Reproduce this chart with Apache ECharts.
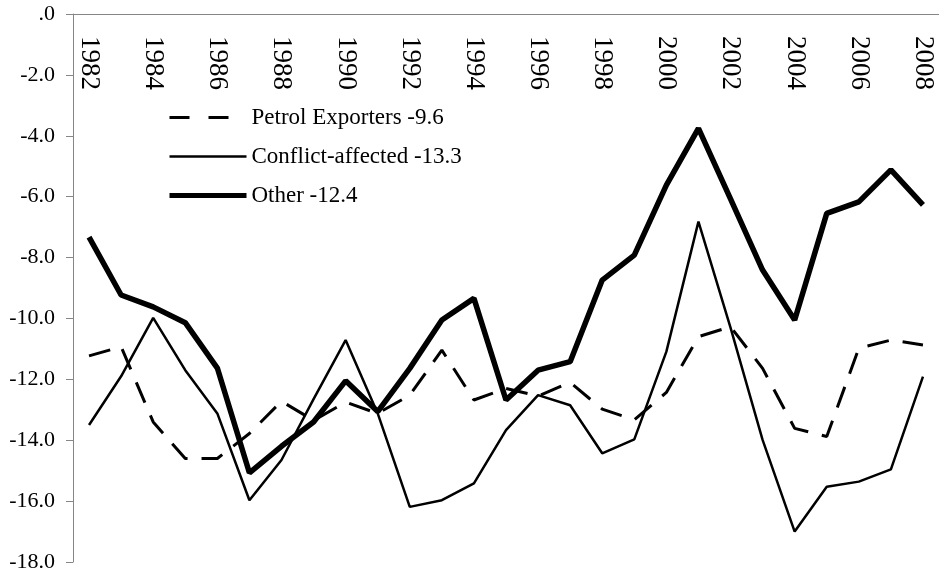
<!DOCTYPE html>
<html>
<head>
<meta charset="utf-8">
<script src="https://cdn.jsdelivr.net/npm/echarts@6.0.0/dist/echarts.min.js"></script>
<style>
  html, body { margin: 0; padding: 0; background: #fff; }
  #chart { width: 939px; height: 575px; }
</style>
</head>
<body>
<div id="chart"></div>
<script>
const years = ['1982', '1983', '1984', '1985', '1986', '1987', '1988', '1989', '1990', '1991', '1992', '1993', '1994', '1995',
  '1996', '1997', '1998', '1999', '2000', '2001', '2002', '2003', '2004', '2005', '2006', '2007', '2008'];

const petrolExporters = [-11.23, -10.93, -13.4, -14.6, -14.6, -13.78, -12.72, -13.35, -12.75, -13.12, -12.52, -11.04, -12.68, -12.3,
  -12.55, -12.1, -12.98, -13.33, -12.43, -10.6, -10.27, -11.64, -13.61, -13.88, -10.98, -10.71, -10.87];
const conflictAffected = [-13.5, -11.9, -9.98, -11.7, -13.12, -15.97, -14.65, -12.65, -10.71, -13.12, -16.19, -15.97, -15.42, -13.67,
  -12.52, -12.85, -14.43, -13.97, -11.09, -6.82, -10.3, -13.99, -17.0, -15.53, -15.36, -14.96, -11.91];
const other = [-7.33, -9.23, -9.62, -10.14, -11.63, -15.07, -14.2, -13.4, -12.05, -13.06, -11.64, -10.05, -9.34, -12.68,
  -11.7, -11.42, -8.74, -7.92, -5.62, -3.76, -6.07, -8.41, -10.05, -6.55, -6.17, -5.12, -6.27];

const seriesNames = ['Petrol Exporters -9.6', 'Conflict-affected -13.3', 'Other -12.4'];

const yTicks = [0, -2, -4, -6, -8, -10, -12, -14, -16, -18];
const yTickLabels = ['.0', '-2.0', '-4.0', '-6.0', '-8.0', '-10.0', '-12.0', '-14.0', '-16.0', '-18.0'];

const serif = 'Liberation Serif';
const axisGray = '#868686';
const noSymbol = { color: 'rgba(0,0,0,0)', borderWidth: 0 };

const chart = echarts.init(document.getElementById('chart'));

chart.setOption({
  animation: false,
  backgroundColor: '#fff',
  grid: { left: 73, top: 14, width: 875, height: 548 },
  legend: {
    orient: 'vertical',
    left: 167,
    top: 106,
    padding: 0,
    itemWidth: 77,
    itemHeight: 14,
    itemGap: 16,
    data: [
      { name: seriesNames[0], itemStyle: noSymbol, lineStyle: { color: '#000', width: 3, type: [20, 19] } },
      { name: seriesNames[1], itemStyle: noSymbol, lineStyle: { color: '#000', width: 2.5 } },
      { name: seriesNames[2], itemStyle: noSymbol, lineStyle: { color: '#000', width: 5 } }
    ],
    textStyle: { fontFamily: serif, fontSize: 23, color: '#000' }
  },
  xAxis: {
    type: 'category',
    position: 'top',
    data: years,
    boundaryGap: true,
    axisLine: { lineStyle: { color: axisGray, width: 1 } },
    axisTick: { inside: true, length: 8, interval: 0, lineStyle: { color: axisGray } },
    axisLabel: { inside: true, rotate: -90, interval: 1, margin: 22, fontFamily: serif, fontSize: 27, color: '#000' },
    splitLine: { show: false }
  },
  yAxis: {
    type: 'value',
    min: -18,
    max: 0,
    interval: 2,
    axisLine: { show: true, lineStyle: { color: axisGray, width: 1 } },
    axisTick: { show: true, length: 7, lineStyle: { color: axisGray } },
    splitLine: { show: false },
    axisLabel: {
      margin: 18,
      fontFamily: serif,
      fontSize: 22,
      color: '#000',
      formatter: (v) => yTickLabels[yTicks.indexOf(v)]
    }
  },
  series: [
    {
      name: seriesNames[0],
      type: 'line',
      data: petrolExporters,
      symbol: 'none',
      color: '#000',
      lineStyle: { color: '#000', width: 3, type: [22, 14] }
    },
    {
      name: seriesNames[1],
      type: 'line',
      data: conflictAffected,
      symbol: 'none',
      color: '#000',
      lineStyle: { color: '#000', width: 2.5 }
    },
    {
      name: seriesNames[2],
      type: 'line',
      data: other,
      symbol: 'none',
      color: '#000',
      lineStyle: { color: '#000', width: 5.5 }
    }
  ]
});
</script>
</body>
</html>
